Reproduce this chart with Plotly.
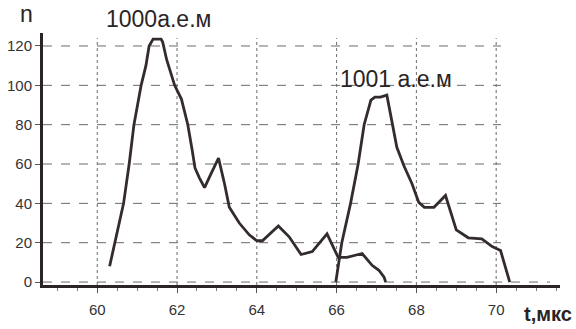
import plotly.graph_objects as go

# Data
t_1000 = [60.31, 60.44, 60.66, 60.8, 60.92, 61.1, 61.22, 61.3, 61.4, 61.6, 61.64, 61.74, 61.94, 62.11,
          62.27, 62.38, 62.45, 62.56, 62.69, 62.85, 63.04, 63.19, 63.31, 63.56, 63.81, 64.0, 64.14,
          64.54, 64.81, 65.11, 65.39, 65.76, 65.89, 66.04, 66.26, 66.64, 66.89, 67.06, 67.19, 67.23]
n_1000 = [8, 20, 40, 60, 80, 100, 110, 120, 123.5, 123.5, 122, 113, 100, 93,
          80, 67, 58, 53, 48, 55, 63, 50, 38, 30, 24, 21, 21,
          28.5, 23, 14, 15.5, 24.5, 19, 12.5, 12.5, 14.5, 8.5, 6, 2.5, 0]

t_1001 = [65.98, 66.13, 66.35, 66.54, 66.69, 66.86, 66.96, 67.1, 67.26, 67.39, 67.51, 67.69, 67.89,
          68.06, 68.2, 68.44, 68.73, 69.0, 69.3, 69.64, 69.9, 70.11, 70.24, 70.34]
n_1001 = [0, 20, 40, 60, 80, 92.5, 94, 94, 95, 81, 68.5, 59, 50,
          40.5, 38, 38, 44, 26.5, 22.5, 22, 18, 16, 7, 0]

x_ticks = [60, 62, 64, 66, 68, 70]
y_ticks = [0, 20, 40, 60, 80, 100, 120]

label_1000 = "1000а.е.м"
label_1001 = "1001 а.е.м"
x_title = "t,мкс"
y_title = "n"

X_RANGE = [58.64, 71.6]
Y_RANGE = [-1.5, 126.6]
INK = "#342c2c"
GRID = "#6a6a6a"

fig = go.Figure()
fig.add_trace(go.Scatter(x=t_1000, y=n_1000, mode="lines", name=label_1000,
                         line=dict(color=INK, width=2.8)))
fig.add_trace(go.Scatter(x=t_1001, y=n_1001, mode="lines", name=label_1001,
                         line=dict(color=INK, width=2.8)))

shapes = []
for yv in y_ticks:
    x_end = 71.35 if yv == 0 else 70.12
    shapes.append(dict(type="line", xref="x", yref="y", x0=X_RANGE[0], x1=x_end, y0=yv, y1=yv,
                       line=dict(color=GRID, width=1, dash="dash"), layer="below"))
for xv in x_ticks:
    shapes.append(dict(type="line", xref="x", yref="y", x0=xv, x1=xv, y0=-1.5, y1=124,
                       line=dict(color=GRID, width=1, dash="dot"), layer="below"))

font_family = "Liberation Sans, Arial, sans-serif"

fig.update_layout(
    width=576, height=329,
    margin=dict(l=43, r=16, t=33, b=44, autoexpand=False),
    paper_bgcolor="white", plot_bgcolor="white",
    showlegend=False,
    shapes=shapes,
    font=dict(family=font_family, color="#333333", size=15),
    xaxis=dict(range=X_RANGE, tickvals=x_ticks, showgrid=False, zeroline=False,
               automargin=False,
               showline=True, linewidth=3, linecolor="#2a2424",
               ticks="outside", ticklen=5, tickwidth=1, tickcolor="#555",
               minor=dict(dtick=0.5, tick0=60, ticks="outside", ticklen=3, tickcolor="#777"),
               ticklabelstandoff=4,
               tickfont=dict(size=15, color="#333")),
    yaxis=dict(range=Y_RANGE, tickvals=y_ticks, showgrid=False, zeroline=False,
               automargin=False,
               showline=True, linewidth=3, linecolor="#2a2424",
               ticks="outside", ticklen=5, tickwidth=1, tickcolor="#555",
               tickfont=dict(size=15, color="#333")),
    annotations=[
        dict(text=y_title, xref="paper", yref="paper", x=-0.031, y=1.075, showarrow=False,
             xanchor="center", yanchor="middle", font=dict(size=23, color="#2a2424")),
        dict(text=label_1000, xref="paper", yref="paper", x=0.118, y=1.056, showarrow=False,
             xanchor="left", yanchor="middle", font=dict(size=23, color="#2a2424")),
        dict(text=label_1001, xref="paper", yref="paper", x=0.571, y=0.817, showarrow=False,
             xanchor="left", yanchor="middle", font=dict(size=23, color="#2a2424")),
        dict(text="<b>" + x_title + "</b>", xref="paper", yref="paper", x=1.027, y=-0.115,
             showarrow=False, xanchor="right", yanchor="middle",
             font=dict(size=20, color="#2a2424")),
    ],
)

fig.write_html("out.html", config={"displayModeBar": False},
               post_script="document.body.style.margin='0';")
